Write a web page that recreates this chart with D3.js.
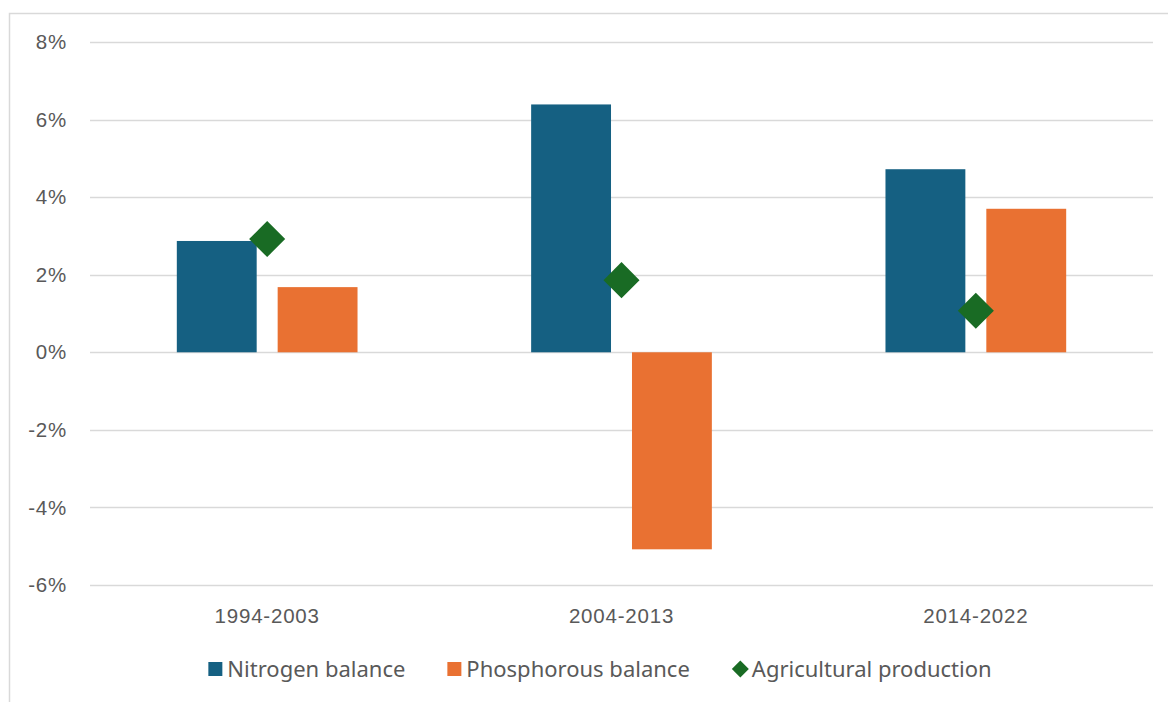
<!DOCTYPE html>
<html>
<head>
<meta charset="utf-8">
<script src="https://cdn.jsdelivr.net/npm/d3@7"></script>
<style>
  body { margin: 0; background: #fff; }
  svg { display: block; }
  .axis-label { font-family: "Liberation Sans", Arial, sans-serif; font-size: 20.5px; fill: #595959; letter-spacing: 0.8px; }
  .legend text { font-family: "Noto Sans", sans-serif; font-size: 22px; fill: #595959; }
</style>
</head>
<body>
<svg width="1168" height="702"></svg>
<script>
const periods = ["1994-2003", "2004-2013", "2014-2022"];
const seriesNames = ["Nitrogen balance", "Phosphorous balance"];
const nitrogen = [2.87, 6.39, 4.72];
const phosphorous = [1.68, -5.08, 3.70];
const production = [2.92, 1.86, 1.07];
const yTicks = [-6, -4, -2, 0, 2, 4, 6, 8];

const colors = {
    "Nitrogen balance": "#156082",
    "Phosphorous balance": "#E97132",
    "Agricultural production": "#196B24"
};

const svg = d3.select("svg"),
    width = +svg.attr("width"),
    height = +svg.attr("height");

// chart frame
svg.append("rect")
    .attr("x", 9.5).attr("y", 13.5)
    .attr("width", 1200).attr("height", 800)
    .attr("fill", "none")
    .attr("stroke", "#D9D9D9")
    .attr("stroke-width", 1.5);

const y = d3.scaleLinear().domain([-6, 8]).range([585, 42]);

const x0 = d3.scaleBand()
    .domain(periods)
    .range([90, 1153])
    .paddingInner(0.49)
    .paddingOuter(0.245);

const x1 = d3.scaleBand()
    .domain(seriesNames)
    .range([0, x0.bandwidth()])
    .paddingInner(0.208);

// gridlines
svg.append("g")
    .selectAll("line")
    .data(yTicks)
    .enter().append("line")
    .attr("x1", 90)
    .attr("x2", 1153)
    .attr("y1", d => Math.round(y(d)) + 0.5)
    .attr("y2", d => Math.round(y(d)) + 0.5)
    .attr("stroke", "#D9D9D9")
    .attr("stroke-width", 1.5);

// y labels
svg.append("g")
    .selectAll("text")
    .data(yTicks)
    .enter().append("text")
    .attr("class", "axis-label")
    .attr("x", 67)
    .attr("y", d => y(d))
    .attr("dy", "0.35em")
    .attr("text-anchor", "end")
    .text(d => d + "%");

// bars
const rows = periods.map((p, i) => ({
    period: p,
    values: [
        { key: "Nitrogen balance", value: nitrogen[i] },
        { key: "Phosphorous balance", value: phosphorous[i] }
    ]
}));

const group = svg.append("g")
    .selectAll("g")
    .data(rows)
    .enter().append("g")
    .attr("transform", d => "translate(" + x0(d.period) + ",0)");

group.selectAll("rect")
    .data(d => d.values)
    .enter().append("rect")
    .attr("x", d => x1(d.key))
    .attr("width", x1.bandwidth())
    .attr("y", d => y(Math.max(0, d.value)))
    .attr("height", d => Math.abs(y(d.value) - y(0)))
    .attr("fill", d => colors[d.key]);

// diamonds
const diamond = d3.symbol().type(d3.symbolSquare).size(650);
svg.append("g")
    .selectAll("path")
    .data(periods)
    .enter().append("path")
    .attr("d", diamond)
    .attr("transform", (d, i) => "translate(" + (x0(d) + x0.bandwidth() / 2) + "," + y(production[i]) + ") rotate(45)")
    .attr("fill", colors["Agricultural production"]);

// category labels
svg.append("g")
    .selectAll("text")
    .data(periods)
    .enter().append("text")
    .attr("class", "axis-label")
    .attr("x", d => x0(d) + x0.bandwidth() / 2)
    .attr("y", 623)
    .attr("text-anchor", "middle")
    .text(d => d);

// legend
const legendItems = ["Nitrogen balance", "Phosphorous balance", "Agricultural production"];
const legend = svg.append("g").attr("class", "legend");
const gap = 42;
let cx = 0;
legendItems.forEach((name, i) => {
    const g = legend.append("g");
    if (i < 2) {
        g.append("rect")
            .attr("x", 0).attr("y", -7)
            .attr("width", 14).attr("height", 14)
            .attr("fill", colors[name]);
    } else {
        g.append("path")
            .attr("d", d3.symbol().type(d3.symbolSquare).size(144)())
            .attr("transform", "translate(8.5,0) rotate(45)")
            .attr("fill", colors[name]);
    }
    const t = g.append("text")
        .attr("x", i < 2 ? 19 : 20)
        .attr("y", 7.5)
        .text(name);
    const w = (i < 2 ? 19 : 20) + t.node().getComputedTextLength();
    g.attr("transform", "translate(" + cx + ",669)");
    cx += w + gap;
});
const total = cx - gap;
legend.attr("transform", "translate(" + (600 - total / 2) + ",0)");
</script>
</body>
</html>
